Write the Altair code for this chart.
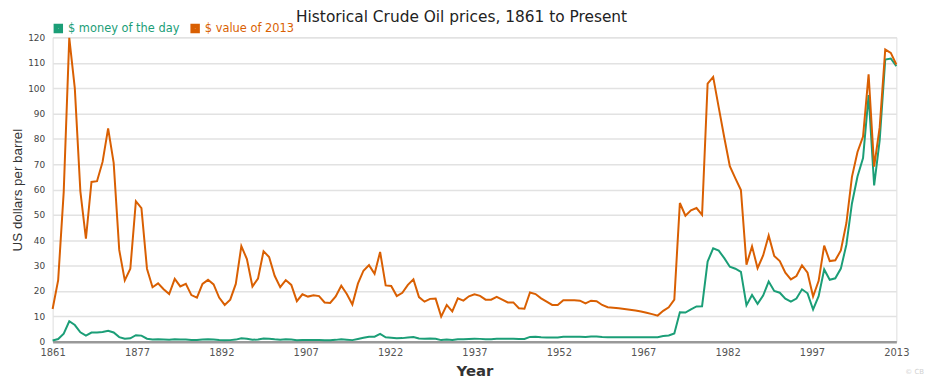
import altair as alt
import pandas as pd

years = list(range(1861, 2014))

money_of_the_day = [
    0.49, 1.05, 3.15, 8.06, 6.59, 3.74, 2.41, 3.63, 3.64, 3.86,
    4.34, 3.64, 1.83, 1.17, 1.35, 2.56, 2.42, 1.19, 0.86, 0.95,
    0.86, 0.78, 1.00, 0.84, 0.88, 0.71, 0.67, 0.88, 0.94, 0.87,
    0.67, 0.56, 0.64, 0.84, 1.36, 1.18, 0.79, 0.91, 1.29, 1.19,
    0.96, 0.80, 0.94, 0.86, 0.62, 0.73, 0.72, 0.72, 0.70, 0.61,
    0.61, 0.74, 0.95, 0.81, 0.64, 1.10, 1.56, 1.98, 2.01, 3.07,
    1.73, 1.61, 1.34, 1.43, 1.68, 1.88, 1.30, 1.17, 1.27, 1.19,
    0.65, 0.87, 0.67, 1.00, 0.97, 1.09, 1.18, 1.13, 1.02, 1.02,
    1.14, 1.19, 1.20, 1.21, 1.05, 1.12, 1.90, 1.99, 1.78, 1.71,
    1.71, 1.71, 1.93, 1.93, 1.93, 1.93, 1.90, 2.08, 2.08, 1.90,
    1.80, 1.80, 1.80, 1.80, 1.80, 1.80, 1.80, 1.80, 1.80, 1.80,
    2.24, 2.48, 3.29, 11.58, 11.53, 12.80, 13.92, 14.02, 31.61, 36.83,
    35.93, 32.97, 29.55, 28.78, 27.56, 14.43, 18.44, 14.92, 18.23, 23.73,
    20.00, 19.32, 16.97, 15.82, 17.02, 20.67, 19.09, 12.72, 17.97, 28.50,
    24.44, 25.02, 28.83, 38.27, 54.52, 65.14, 72.39, 97.26, 61.67, 79.50,
    111.26, 111.67, 108.66,
]

value_of_2013 = [
    12.9, 24.3, 59.1, 119.8, 99.9, 59.3, 40.6, 63.0, 63.3, 70.9,
    84.1, 70.5, 36.2, 24.2, 28.8, 55.4, 52.7, 28.8, 21.5, 23.0,
    20.7, 18.8, 24.8, 21.8, 22.8, 18.4, 17.4, 22.8, 24.4, 22.6,
    17.4, 14.5, 16.6, 22.8, 37.7, 32.6, 21.8, 24.9, 35.7, 33.4,
    26.0, 21.5, 24.3, 22.4, 16.0, 18.7, 17.8, 18.3, 18.0, 15.5,
    15.3, 17.9, 22.1, 18.8, 14.7, 22.9, 28.0, 30.2, 26.8, 35.4,
    22.2, 22.0, 18.0, 19.3, 22.4, 24.6, 17.6, 15.8, 16.9, 17.0,
    9.9, 14.5, 12.0, 17.1, 16.2, 17.9, 18.7, 18.1, 16.6, 16.6,
    17.7, 16.6, 15.5, 15.5, 13.2, 13.0, 19.4, 18.8, 17.1, 15.8,
    14.5, 14.5, 16.4, 16.4, 16.4, 16.2, 15.1, 16.2, 16.0, 14.5,
    13.6, 13.4, 13.2, 12.9, 12.6, 12.3, 11.9, 11.4, 10.9, 10.3,
    12.2, 13.6, 16.6, 54.7, 49.7, 51.8, 52.7, 50.0, 101.8, 104.4,
    92.4, 80.5, 69.2, 64.4, 59.8, 30.4, 37.6, 29.0, 34.0, 41.9,
    33.8, 31.8, 27.2, 24.6, 25.9, 30.1, 27.2, 17.8, 24.0, 37.9,
    31.8, 32.1, 36.0, 46.8, 65.0, 74.8, 80.9, 105.4, 69.0, 84.6,
    115.2, 113.9, 109.3,
]

series_names = ["$ money of the day", "$ value of 2013"]
series_colors = ["#1b9e77", "#d95f02"]
x_tick_labels = ["1861", "1877", "1892", "1907", "1922", "1937",
                 "1952", "1967", "1982", "1997", "2013"]
y_ticks = [0, 10, 20, 30, 40, 50, 60, 70, 80, 90, 100, 110, 120]

n = len(years)
df = pd.DataFrame({
    "year": years + years,
    "price": money_of_the_day + value_of_2013,
    "series": [series_names[0]] * n + [series_names[1]] * n,
})

step = (years[-1] - years[0]) / (len(x_tick_labels) - 1)
tick_positions = [years[0] + step * i for i in range(len(x_tick_labels))]
label_array = "[" + ",".join("'" + s + "'" for s in x_tick_labels) + "]"
label_expr = f"{label_array}[round((datum.value - {years[0]}) / {step})]"

color_expr = (f"datum.value == '{series_names[0]}' ? '{series_colors[0]}' : "
              f"'{series_colors[1]}'")

lines = alt.Chart(df).mark_line(strokeWidth=2).encode(
    x=alt.X(
        "year:Q",
        scale=alt.Scale(domain=[years[0], years[-1]], nice=False, zero=False),
        axis=alt.Axis(
            values=tick_positions, labelExpr=label_expr, title="Year",
            grid=False, ticks=False, domainColor="#999999", domainWidth=2.5,
            labelColor="#555555", labelFont="DejaVu Sans", labelFontSize=10,
            labelPadding=6, labelFlush=False, labelOverlap=False,
            titleFont="DejaVu Sans", titleFontSize=15,
            titleFontWeight="bold", titleColor="#333333", titlePadding=6,
        ),
    ),
    y=alt.Y(
        "price:Q",
        scale=alt.Scale(domain=[0, 120], nice=False),
        axis=alt.Axis(
            values=y_ticks, title="US dollars per barrel", grid=True,
            gridColor="#e2e2e2", gridWidth=1.5, domain=False, ticks=False,
            labelFont="DejaVu Sans", labelFontSize=9, labelColor="#444444",
            labelPadding=8, titleFont="Liberation Sans", titleFontSize=13.5,
            titleFontWeight="normal", titleColor="#333333", titlePadding=3,
        ),
    ),
    color=alt.Color(
        "series:N",
        scale=alt.Scale(domain=series_names, range=series_colors),
        legend=alt.Legend(
            orient="none", legendX=0, legendY=-15, direction="horizontal",
            title=None, symbolType="square", symbolSize=25,
            symbolStrokeWidth=4.5, labelFont="DejaVu Sans",
            labelFontSize=11.5, labelColor={"expr": color_expr},
            columnPadding=4, labelOffset=4,
        ),
    ),
)

watermark = alt.Chart(pd.DataFrame({"t": ["© CB"]})).mark_text(
    fontSize=7, color="#d0d0d0", font="DejaVu Sans", align="left"
).encode(text="t:N", x=alt.value(860), y=alt.value(338))

chart = alt.layer(lines, watermark).properties(
    width=851,
    height=307,
    autosize=alt.AutoSizeParams(type="none"),
    padding={"left": 45, "top": 28, "right": 41, "bottom": 40},
    title=alt.TitleParams(
        "Historical Crude Oil prices, 1861 to Present",
        font="DejaVu Sans", fontSize=15.5, fontWeight="normal",
        color="#222222", anchor="middle", offset=-3, dx=-13,
    ),
).configure_view(stroke=None).configure(background="white")

chart.save("out.html", embed_options={"renderer": "svg", "actions": False})
